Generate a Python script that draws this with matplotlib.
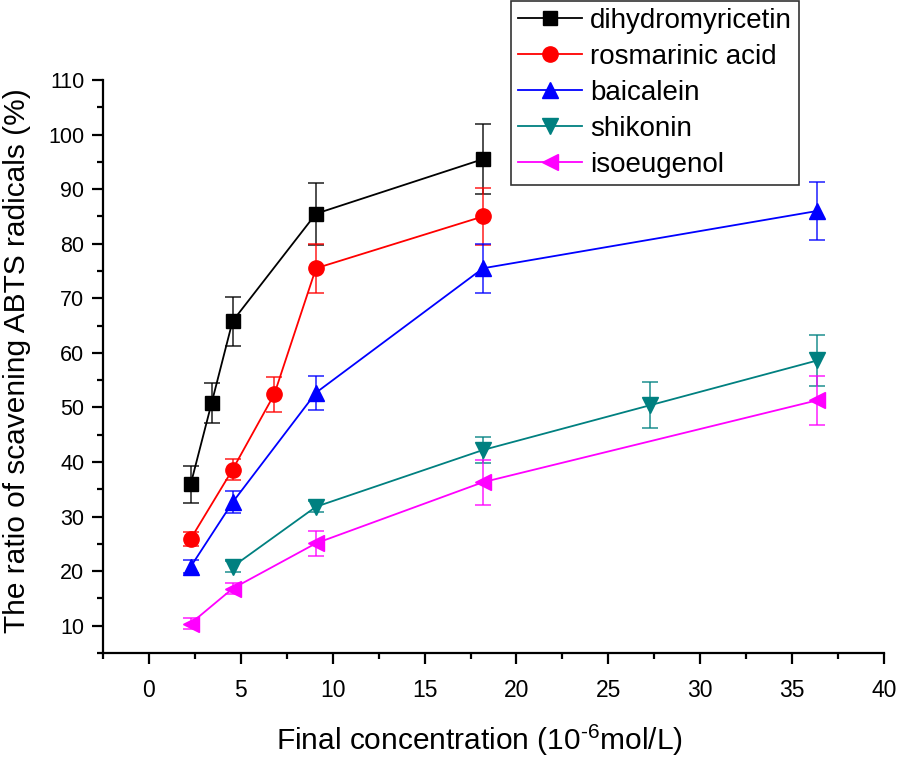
import matplotlib
matplotlib.use("Agg")
import matplotlib.pyplot as plt
from matplotlib.ticker import MultipleLocator

plt.rcParams['font.family'] = ['Liberation Sans', 'DejaVu Sans']
plt.rcParams['mathtext.fontset'] = 'custom'
plt.rcParams['mathtext.rm'] = 'Liberation Sans'
plt.rcParams['mathtext.it'] = 'Liberation Sans:italic'
plt.rcParams['mathtext.bf'] = 'Liberation Sans:bold'

names = ["dihydromyricetin", "rosmarinic acid", "baicalein", "shikonin", "isoeugenol"]
colors = ["#000000", "#FF0000", "#0000FF", "#008080", "#FF00FF"]
markers = ["s", "o", "^", "v", "<"]

x_dhm = [2.27, 3.41, 4.55, 9.09, 18.18]
y_dhm = [35.9, 50.8, 65.8, 85.5, 95.5]
e_dhm = [3.4, 3.7, 4.5, 5.7, 6.4]

x_ros = [2.27, 4.55, 6.82, 9.09, 18.18]
y_ros = [25.9, 38.6, 52.4, 75.5, 85.0]
e_ros = [1.3, 1.9, 3.2, 4.5, 5.2]

x_bai = [2.27, 4.55, 9.09, 18.18, 36.36]
y_bai = [20.8, 32.6, 52.7, 75.5, 86.0]
e_bai = [1.2, 2.0, 3.1, 4.5, 5.3]

x_shi = [4.55, 9.09, 18.18, 27.27, 36.36]
y_shi = [20.8, 31.8, 42.2, 50.4, 58.6]
e_shi = [1.0, 1.0, 2.3, 4.2, 4.6]

x_iso = [2.27, 4.55, 9.09, 18.18, 36.36]
y_iso = [10.4, 16.8, 25.1, 36.3, 51.3]
e_iso = [1.0, 1.0, 2.3, 4.1, 4.5]

xs = [x_dhm, x_ros, x_bai, x_shi, x_iso]
ys = [y_dhm, y_ros, y_bai, y_shi, y_iso]
es = [e_dhm, e_ros, e_bai, e_shi, e_iso]
msizes = [10, 11, 11, 11, 11]

fig = plt.figure(figsize=(8.98, 7.57), dpi=100)
ax = fig.add_axes([0.1147, 0.1374, 0.8697, 0.7569])

handles = []
for i in range(5):
    ax.errorbar(xs[i], ys[i], yerr=es[i], fmt='none', ecolor=colors[i],
                elinewidth=1.3, capsize=6, capthick=1.3, alpha=0.75, zorder=2)
    h, = ax.plot(xs[i], ys[i], color=colors[i], marker=markers[i],
                 markersize=msizes[i], linewidth=1.3, zorder=3, label=names[i])
    handles.append(h)

ax.set_xlim(-2.5, 40)
ax.set_ylim(5, 110)
ax.xaxis.set_major_locator(MultipleLocator(5))
ax.xaxis.set_minor_locator(MultipleLocator(2.5))
ax.yaxis.set_major_locator(MultipleLocator(10))
ax.yaxis.set_minor_locator(MultipleLocator(5))
ax.set_yticks(range(10, 111, 10))
ax.set_xticks(range(0, 41, 5))

for s in ['top', 'right']:
    ax.spines[s].set_visible(False)
for s in ['left', 'bottom']:
    ax.spines[s].set_linewidth(1.6)
ax.tick_params(which='major', length=8, width=1.6, direction='out')
ax.tick_params(which='minor', length=4.5, width=1.6, direction='out')
ax.tick_params(axis='x', pad=10.5, labelsize=16.5)
ax.tick_params(axis='y', pad=5.5, labelsize=15.5)

ax.set_xlabel(r"Final concentration (10$^{\text{-6}}$mol/L)", fontsize=21.5)
ax.xaxis.set_label_coords(0.482, -0.122)
ax.set_ylabel("The ratio of scavening ABTS radicals (%)", fontsize=21.5)
ax.yaxis.set_label_coords(-0.092, 0.511)

leg = fig.legend(handles=handles, loc='upper left', bbox_to_anchor=(0.569, 0.999),
                 fontsize=20, frameon=True, fancybox=False, edgecolor='black',
                 handlelength=2.3, handletextpad=0.3, borderpad=0.25,
                 labelspacing=0.36, borderaxespad=0)
leg.get_frame().set_linewidth(1.2)

fig.savefig("out.png", dpi=100)
